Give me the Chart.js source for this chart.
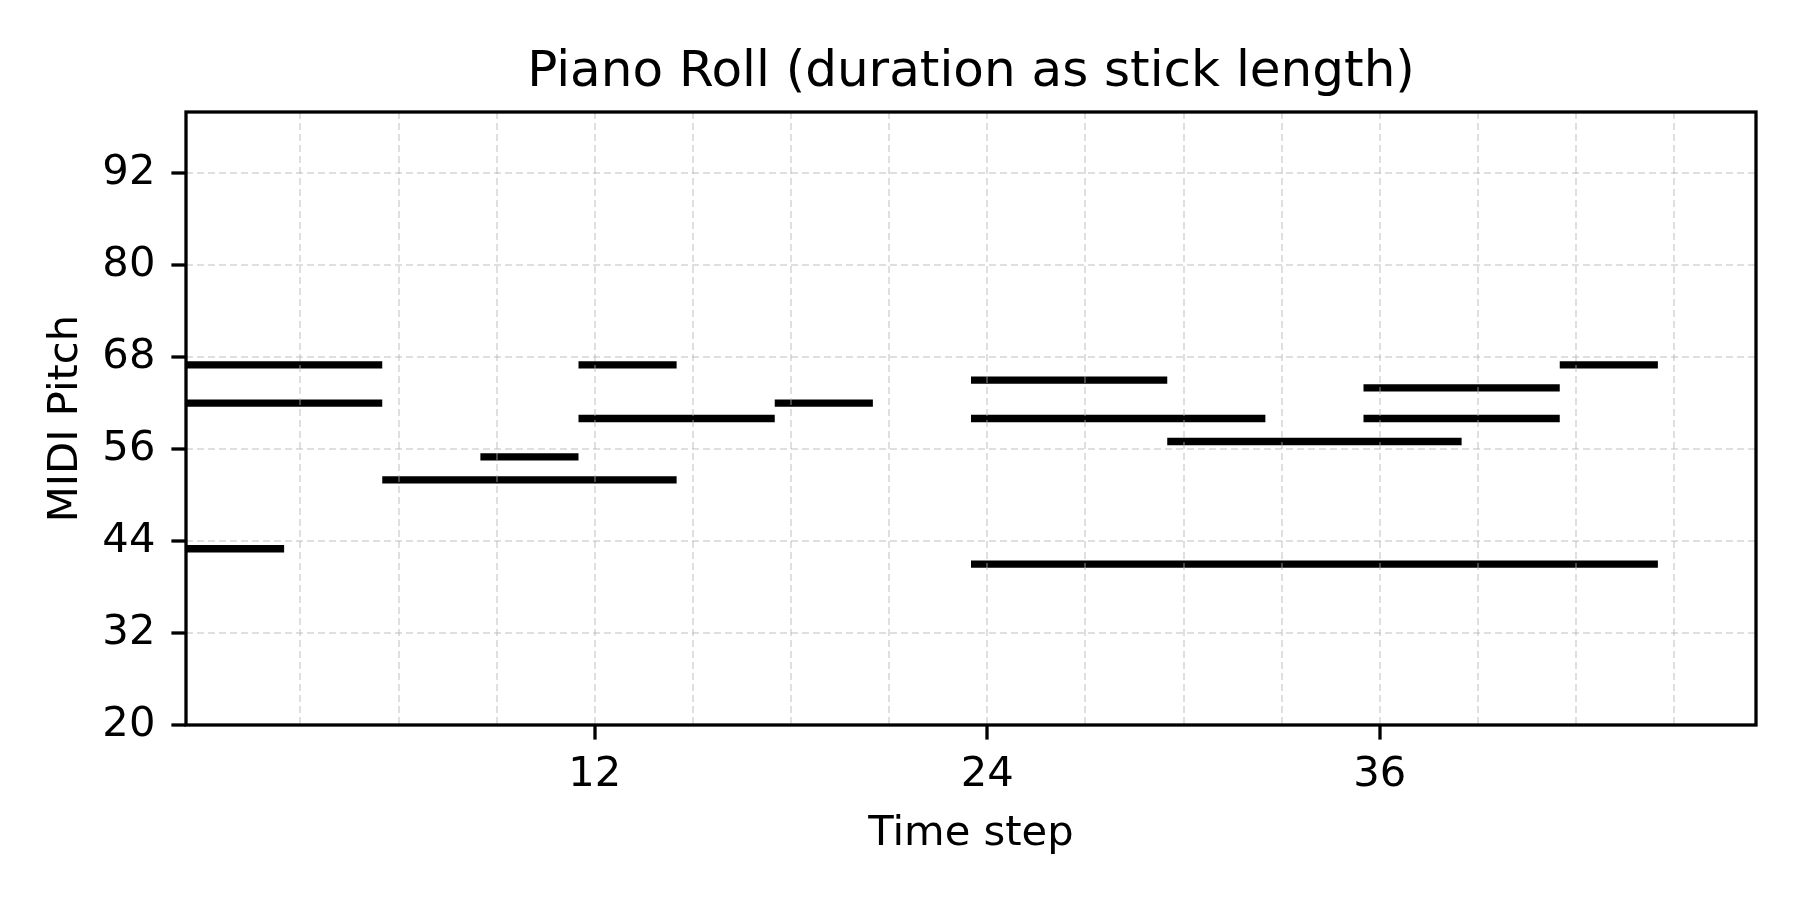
<!DOCTYPE html>
<html>
<head>
<meta charset="utf-8">
<script src="https://cdn.jsdelivr.net/npm/chart.js@4.4.1/dist/chart.umd.min.js"></script>
<style>
  html, body { margin: 0; padding: 0; background: #fff; }
  #wrap { width: 1800px; height: 900px; }
</style>
</head>
<body>
<div id="wrap"><canvas id="roll"></canvas></div>
<script>
// notes: onset (time step), duration (steps), MIDI pitch
const noteStarts    = [0, 0, 0, 6, 9, 12, 12, 18, 24, 24, 30, 24, 36, 36, 42];
const noteDurations = [6, 6, 3, 9, 3, 3, 6, 3, 6, 9, 9, 21, 6, 6, 3];
const notePitches   = [67, 62, 43, 52, 55, 67, 60, 62, 65, 60, 57, 41, 64, 60, 67];

const xGridSteps  = [3, 6, 9, 12, 15, 18, 21, 24, 27, 30, 33, 36, 39, 42, 45];
const xTickLabels = [12, 24, 36];
const yTicks      = [20, 32, 44, 56, 68, 80, 92];

const CELL_OFFSET = 0.5; // each step is drawn centred on its integer time
const FONT = "'DejaVu Sans', sans-serif";
const GRID_COLOR = 'rgba(176,176,176,0.4)';
const DASH = [7, 4];

const datasets = noteStarts.map((start, i) => ({
    data: [
        { x: start - CELL_OFFSET, y: notePitches[i] },
        { x: start + noteDurations[i] - CELL_OFFSET, y: notePitches[i] }
    ],
    borderColor: '#000',
    borderWidth: 7.3,
    borderCapStyle: 'butt',
    pointRadius: 0,
    fill: false,
    tension: 0
}));

const frame = {
    id: 'frame',
    afterDraw(chart) {
        const { ctx, chartArea: a } = chart;
        ctx.save();
        ctx.strokeStyle = '#000';
        ctx.lineWidth = 3.3;
        ctx.strokeRect(a.left, a.top, a.right - a.left, a.bottom - a.top);
        ctx.restore();
    }
};

new Chart(document.getElementById('roll'), {
    type: 'line',
    data: { datasets },
    plugins: [frame],
    options: {
        responsive: true,
        maintainAspectRatio: false,
        animation: false,
        layout: { padding: { left: 0, right: 44, top: 0, bottom: 0 } },
        plugins: {
            legend: { display: false },
            tooltip: { enabled: false },
            title: {
                display: true,
                fullSize: false,
                text: 'Piano Roll (duration as stick length)',
                color: '#000',
                font: { family: FONT, size: 50, weight: 'normal' },
                padding: { top: 43, bottom: 9 }
            }
        },
        scales: {
            x: {
                type: 'linear',
                min: -0.5,
                max: 47.5,
                afterBuildTicks: (scale) => { scale.ticks = xGridSteps.map(v => ({ value: v })); },
                afterFit: (scale) => { scale.height = 175; },
                ticks: {
                    autoSkip: false,
                    maxRotation: 0,
                    padding: 11,
                    color: '#000',
                    font: { family: FONT, size: 41.7 },
                    callback: (v) => xTickLabels.includes(v) ? String(v) : ''
                },
                grid: {
                    z: 1,
                    color: GRID_COLOR,
                    lineWidth: 2,
                    dash: DASH,
                    borderDash: DASH,
                    tickLength: 14.6,
                    tickWidth: 3.3,
                    tickColor: (c) => (c.tick && xTickLabels.includes(c.tick.value)) ? '#000' : 'rgba(0,0,0,0)'
                },
                border: { display: false, dash: DASH },
                title: {
                    display: true,
                    text: 'Time step',
                    color: '#000',
                    font: { family: FONT, size: 41.7 },
                    padding: { top: 0, bottom: 41 }
                }
            },
            y: {
                type: 'linear',
                min: 20,
                max: 100,
                afterBuildTicks: (scale) => { scale.ticks = yTicks.map(v => ({ value: v })); },
                afterFit: (scale) => { scale.width = 186; },
                ticks: {
                    autoSkip: false,
                    padding: 16,
                    color: '#000',
                    font: { family: FONT, size: 41.7 }
                },
                grid: {
                    z: 1,
                    color: GRID_COLOR,
                    lineWidth: 2,
                    dash: DASH,
                    borderDash: DASH,
                    tickLength: 14.6,
                    tickWidth: 3.3,
                    tickColor: '#000'
                },
                border: { display: false, dash: DASH },
                title: {
                    display: true,
                    text: 'MIDI Pitch',
                    color: '#000',
                    font: { family: FONT, size: 41.7 },
                    padding: { top: 41, bottom: 0 }
                }
            }
        }
    }
});
</script>
</body>
</html>
